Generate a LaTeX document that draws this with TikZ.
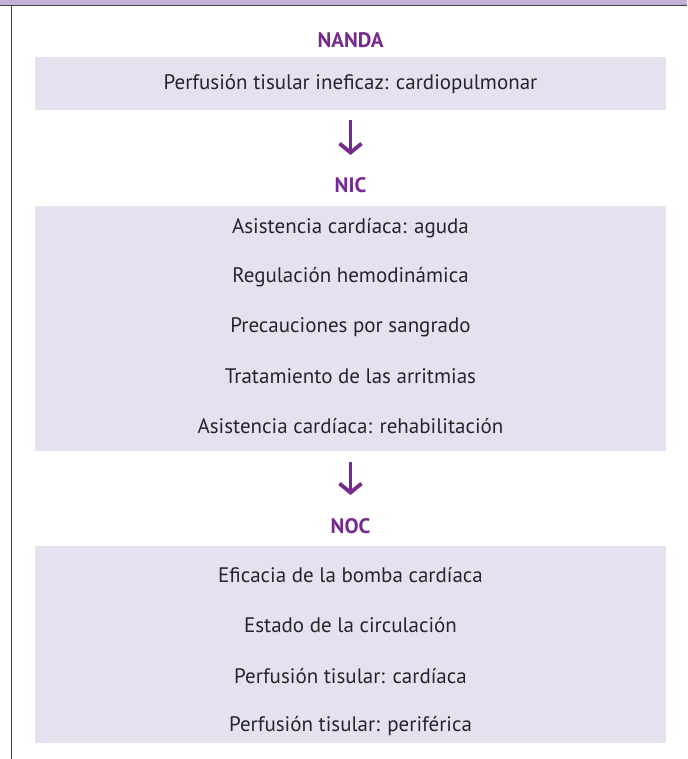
\documentclass[tikz,border=0pt]{standalone}
\usepackage{fontspec}
\setmainfont{PT Sans}
\usetikzlibrary{arrows.meta}
\definecolor{barlilac}{HTML}{C4AFD6}
\definecolor{boxlilac}{HTML}{E7E1EF}
\definecolor{purp}{HTML}{772A8E}
\definecolor{edge}{HTML}{404040}
\tikzset{
  lilacbox/.style={fill=boxlilac, draw=none, minimum width=631pt, inner sep=0pt, anchor=north},
  headlabel/.style={text=purp, font=\bfseries\fontsize{21}{24}\selectfont, inner sep=0pt},
  itemtext/.style={text=black!85, font=\fontsize{21}{24}\selectfont, inner sep=0pt},
  flowarrow/.style={draw=purp, line width=3.8pt, -{Straight Barb[length=9pt,width=22pt]}}
}
\begin{document}
\begin{tikzpicture}[x=1pt,y=-1pt]
\useasboundingbox (0,0) rectangle (687,759);
% frame
\fill[barlilac] (0,0) rectangle (687,5.5);
\draw[edge, line width=1.3pt] (0,5.8) -- (687,5.8);
\draw[edge, line width=1.6pt] (11.5,5.8) -- (11.5,759);
% NANDA
\node[headlabel] (nanda) at (350.5,40) {NANDA};
\node[lilacbox, minimum height=53pt] (nandabox) at (350.5,57) {};
\node[itemtext] (n1) at (350.5,84) {Perfusión tisular ineficaz: cardiopulmonar};
% NIC
\node[headlabel] (nic) at (350.5,185) {NIC};
\draw[flowarrow, shorten <=10pt, shorten >=30pt] (nandabox.south) -- (nic.center);
\node[lilacbox, minimum height=245pt] (nicbox) at (350.5,206) {};
\node[itemtext] (c1) at (350.5,228) {Asistencia cardíaca: aguda};
\node[itemtext] (c2) at (350.5,277.5) {Regulación hemodinámica};
\node[itemtext] (c3) at (350.5,327) {Precauciones por sangrado};
\node[itemtext] (c4) at (350.5,376.5) {Tratamiento de las arritmias};
\node[itemtext] (c5) at (350.5,426) {Asistencia cardíaca: rehabilitación};
% NOC
\node[headlabel] (noc) at (350.5,526) {NOC};
\draw[flowarrow, shorten <=11pt, shorten >=31pt] (nicbox.south) -- (noc.center);
\node[lilacbox, minimum height=197pt] (nocbox) at (350.5,546) {};
\node[itemtext] (o1) at (350.5,575) {Eficacia de la bomba cardíaca};
\node[itemtext] (o2) at (350.5,625) {Estado de la circulación};
\node[itemtext] (o3) at (350.5,676) {Perfusión tisular: cardíaca};
\node[itemtext] (o4) at (350.5,726) {Perfusión tisular: periférica};
\end{tikzpicture}
\end{document}
